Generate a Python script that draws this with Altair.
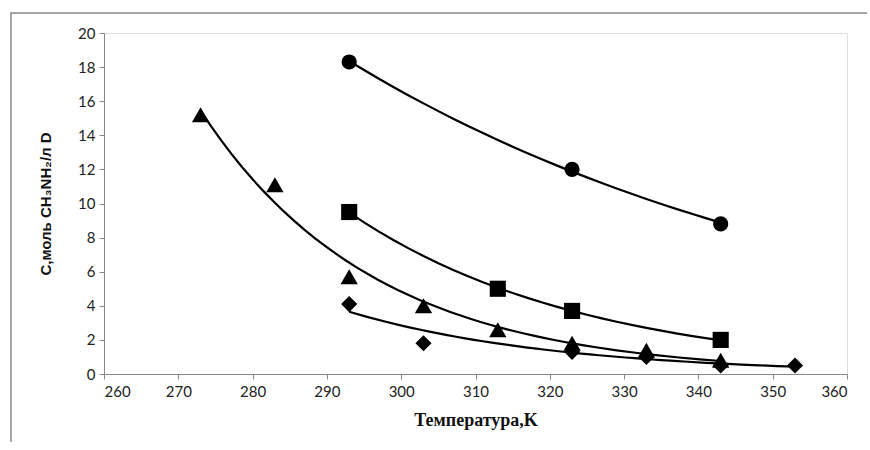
import altair as alt
import pandas as pd

# Series data (temperature K, concentration)
circle_T = [293, 323, 343]
circle_C = [18.3, 12.0, 8.8]
square_T = [293, 313, 323, 343]
square_C = [9.5, 5.0, 3.7, 2.0]
triangle_T = [273, 283, 293, 303, 313, 323, 333, 343]
triangle_C = [15.2, 11.1, 5.7, 4.0, 2.6, 1.8, 1.4, 0.8]
diamond_T = [293, 303, 323, 333, 343, 353]
diamond_C = [4.1, 1.8, 1.3, 1.0, 0.5, 0.5]

x_ticks = list(range(260, 361, 10))
y_ticks = list(range(0, 21, 2))

rows = []
for name, T, C in [("circle", circle_T, circle_C), ("square", square_T, square_C),
                   ("triangle-up", triangle_T, triangle_C), ("diamond", diamond_T, diamond_C)]:
    for t, c in zip(T, C):
        rows.append({"series": name, "T": t, "C": c})
df = pd.DataFrame(rows)

FONT = "Lato"

xenc = alt.X("T:Q", scale=alt.Scale(domain=[260, 360], nice=False),
             axis=alt.Axis(values=x_ticks, title="Температура,K", grid=False,
                           domainColor="#888888", tickColor="#888888", tickSize=5,
                           labelFont=FONT, labelFontSize=15, labelColor="#222222",
                           labelPadding=5,
                           titleFont="Liberation Sans Narrow", titleFontSize=18, titleFontWeight="bold",
                           titleColor="#111111", titlePadding=12))
yenc = alt.Y("C:Q", scale=alt.Scale(domain=[0, 20], nice=False),
             axis=alt.Axis(values=y_ticks, title="C,моль CH₃NH₂/л D", grid=False,
                           domainColor="#888888", tickColor="#888888", tickSize=5,
                           labelFont=FONT, labelFontSize=15, labelColor="#222222",
                           labelPadding=4,
                           titleFont="Liberation Sans", titleFontSize=15, titleFontWeight="bold",
                           titleColor="#111111", titlePadding=24))

base = alt.Chart(df)

lines = alt.layer(*[
    base.transform_filter(alt.datum.series == s)
        .transform_regression("T", "C", method="exp")
        .mark_line(color="black", strokeWidth=2.2)
        .encode(x=xenc, y=yenc)
    for s in ["circle", "square", "triangle-up", "diamond"]
])

sizes = {"circle": 230, "square": 260, "triangle-up": 300, "diamond": 260}
points = alt.layer(*[
    base.transform_filter(alt.datum.series == s)
        .mark_point(shape=s, filled=True, color="black", opacity=1, size=sizes[s])
        .encode(x=xenc, y=yenc)
    for s in ["circle", "square", "triangle-up", "diamond"]
])

# outer chart frame (only top and left edges fall inside the canvas)
frame = alt.Chart(pd.DataFrame({"k": [0]})).mark_rect(
    fill="transparent", stroke="#888888", strokeWidth=1.5
).encode(x=alt.value(-93), x2=alt.value(775), y=alt.value(-20), y2=alt.value(440))

chart = alt.layer(frame, lines, points).properties(
    width=743, height=341,
    autosize=alt.AutoSizeParams(type="none"),
    padding={"left": 104, "top": 33, "right": 20, "bottom": 68},
).configure_view(strokeWidth=0, stroke="transparent").configure(background="white")

chart.save("out.html", embed_options={"renderer": "svg", "actions": False})
